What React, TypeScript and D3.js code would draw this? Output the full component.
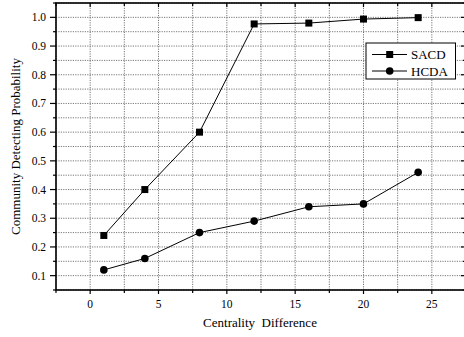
import React from "react";
import * as d3 from "d3";

const xValues = [1, 4, 8, 12, 16, 20, 24];
const sacd = [0.24, 0.40, 0.60, 0.977, 0.98, 0.994, 0.999];
const hcda = [0.12, 0.16, 0.25, 0.29, 0.34, 0.35, 0.46];
const xTicks = [0, 5, 10, 15, 20, 25];
const yTicks = [0.1, 0.2, 0.3, 0.4, 0.5, 0.6, 0.7, 0.8, 0.9, 1.0];
const seriesNames = ["SACD", "HCDA"];

const W = 464, H = 337;
const L = 56, R = 466, T = 3, B = 290;

export default function App() {
  const x = d3.scaleLinear().domain([-2.5, 27.5]).range([L, R]);
  const y = d3.scaleLinear().domain([0.05, 1.05]).range([B, T]);
  const xMinor = d3.range(-2.5, 27.6, 2.5);
  const yMinor = d3.range(0.05, 1.051, 0.05);
  const line = d3.line<number>().x((_, i) => x(xValues[i])).y((d) => y(d));
  const font = "'Liberation Serif', 'Times New Roman', Times, serif";
  const ts = { fontFamily: font };

  return (
    <svg width={W} height={H} style={{ position: "absolute", left: 0, top: 0, background: "#fff", fontFamily: font }}>
      <rect x={0} y={0} width={W} height={H} fill="#fff" />
      {/* grid */}
      {xMinor.map((v, i) => (
        <line key={"gx" + i} x1={x(v)} x2={x(v)} y1={T} y2={B} stroke="#555" strokeWidth={0.8} strokeDasharray="1.2,1.2" />
      ))}
      {yMinor.map((v, i) => (
        <line key={"gy" + i} x1={L} x2={R} y1={y(v)} y2={y(v)} stroke="#555" strokeWidth={0.8} strokeDasharray="1.2,1.2" />
      ))}
      {/* frame */}
      <rect x={L} y={T} width={R - L} height={B - T} fill="none" stroke="#000" strokeWidth={1.6} />
      {/* x ticks */}
      {xMinor.map((v, i) => {
        const major = Math.abs(v / 5 - Math.round(v / 5)) < 1e-6;
        return (
          <g key={"xt" + i}>
            <line x1={x(v)} x2={x(v)} y1={B} y2={B + (major ? 4 : 3)} stroke="#000" strokeWidth={1.2} />
            <line x1={x(v)} x2={x(v)} y1={T} y2={T + (major ? 4 : 3)} stroke="#000" strokeWidth={1.2} />
          </g>
        );
      })}
      {xTicks.map((v) => (
        <text key={"xl" + v} x={x(v)} y={308} textAnchor="middle" fontSize={11.5} fill="#000" style={ts}>{v}</text>
      ))}
      {/* y ticks */}
      {yMinor.map((v, i) => {
        const major = Math.abs(v * 10 - Math.round(v * 10)) < 1e-6;
        return (
          <g key={"yt" + i}>
            <line x1={L - (major ? 6 : 3)} x2={L} y1={y(v)} y2={y(v)} stroke="#000" strokeWidth={1.2} />
            <line x1={R - (major ? 5 : 3)} x2={R} y1={y(v)} y2={y(v)} stroke="#000" strokeWidth={1.2} />
          </g>
        );
      })}
      {yTicks.map((v) => (
        <text key={"yl" + v} x={46} y={y(v) + 4} textAnchor="end" fontSize={11.5} fill="#000" style={ts}>{v.toFixed(1)}</text>
      ))}
      {/* axis titles */}
      <text x={260} y={327} textAnchor="middle" fontSize={13} fill="#000" style={{ ...ts, whiteSpace: "pre" }}>{"Centrality  Difference"}</text>
      <text transform={`translate(20,${(T + B) / 2}) rotate(-90)`} textAnchor="middle" fontSize={13} fill="#000" style={ts}>Community Detecting Probability</text>
      {/* series */}
      <path d={line(sacd) || ""} fill="none" stroke="#000" strokeWidth={1} />
      <path d={line(hcda) || ""} fill="none" stroke="#000" strokeWidth={1} />
      {sacd.map((v, i) => (
        <rect key={"s" + i} x={x(xValues[i]) - 3.5} y={y(v) - 3.5} width={7} height={7} fill="#000" />
      ))}
      {hcda.map((v, i) => (
        <circle key={"h" + i} cx={x(xValues[i])} cy={y(v)} r={3.8} fill="#000" />
      ))}
      {/* legend */}
      <rect x={366} y={43} width={89.5} height={36} fill="#fff" stroke="#000" strokeWidth={1} />
      <line x1={372} x2={407} y1={54.5} y2={54.5} stroke="#000" strokeWidth={1} />
      <rect x={386.2} y={51} width={7} height={7} fill="#000" />
      <text x={411} y={59} fontSize={13} fill="#000" style={ts}>{seriesNames[0]}</text>
      <line x1={372} x2={407} y1={71} y2={71} stroke="#000" strokeWidth={1} />
      <circle cx={389.7} cy={71} r={3.8} fill="#000" />
      <text x={411} y={75.5} fontSize={13} fill="#000" style={ts}>{seriesNames[1]}</text>
    </svg>
  );
}
